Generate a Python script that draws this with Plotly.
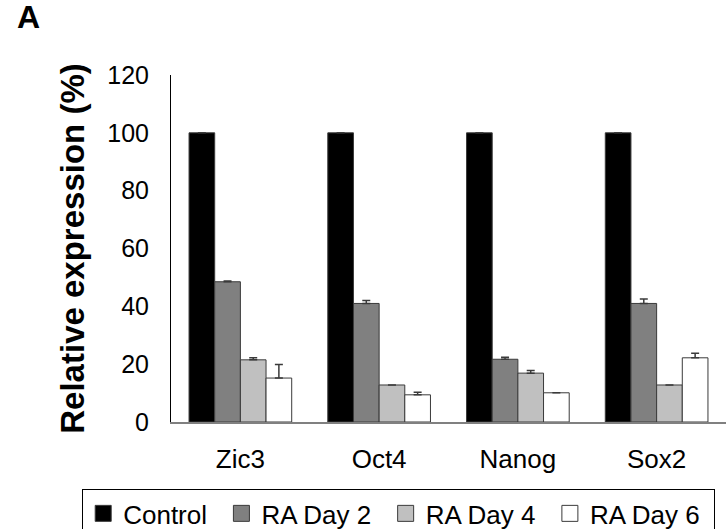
import plotly.graph_objects as go

genes = ["Zic3", "Oct4", "Nanog", "Sox2"]
series_names = ["Control", "RA Day 2", "RA Day 4", "RA Day 6"]
control = [100, 100, 100, 100]
ra_day2 = [48.5, 41.0, 21.7, 41.0]
ra_day4 = [21.5, 12.8, 16.9, 12.8]
ra_day6 = [15.2, 9.4, 10.1, 22.2]
err_control = [0, 0, 0, 0]
err_day2 = [0.3, 1.0, 0.7, 1.5]
err_day4 = [0.7, 0.0, 0.9, 0.0]
err_day6 = [4.7, 0.9, 0.0, 1.6]
y_ticks = [0, 20, 40, 60, 80, 100, 120]

values = [control, ra_day2, ra_day4, ra_day6]
errors = [err_control, err_day2, err_day4, err_day6]
colors = ["#000000", "#808080", "#c0c0c0", "#ffffff"]

FONT = "Liberation Sans, Arial, sans-serif"
PAD = "\u00a0\u200a"

fig = go.Figure()
for name, vals, errs, col in zip(series_names, values, errors, colors):
    fig.add_trace(go.Bar(
        x=genes, y=vals, name=name, showlegend=False,
        marker=dict(color=col, line=dict(color="#3a3a3a", width=1)),
        error_y=dict(type="data", array=errs, arrayminus=[0] * len(errs),
                     symmetric=False, color="#3a3a3a", thickness=1.5, width=4),
    ))
# legend entries
for name, col in zip(series_names, colors):
    fig.add_trace(go.Scatter(
        x=[None], y=[None], mode="markers", name=name + PAD,
        marker=dict(symbol="square", size=16, color=col,
                    line=dict(color="#3a3a3a", width=1)),
    ))

fig.update_layout(
    width=726, height=529,
    margin=dict(l=171, r=0, t=75, b=107, autoexpand=False),
    paper_bgcolor="white", plot_bgcolor="white",
    barmode="group", bargap=0.26, bargroupgap=0,
    font=dict(family=FONT, size=26, color="black"),
    showlegend=True,
    legend=dict(orientation="h", x=-0.16, y=-0.193, xanchor="left", yanchor="top",
                bordercolor="black", borderwidth=1, bgcolor="white",
                font=dict(size=26, family=FONT, color="black"),
                itemwidth=30, tracegroupgap=0),
    xaxis=dict(showline=True, linecolor="#808080", linewidth=2, ticks="",
               tickfont=dict(size=26), showgrid=False, zeroline=False,
               ticklabelstandoff=13),
    yaxis=dict(range=[0, 120], tickvals=y_ticks, showline=True, linecolor="black",
               linewidth=1, ticks="", showgrid=False, zeroline=False,
               tickfont=dict(size=25), ticklabelstandoff=16,
               title=dict(text="<b>Relative expression (%)</b>",
                          font=dict(size=33), standoff=12)),
)
fig.add_annotation(text="<b>A</b>", xref="paper", yref="paper",
                   x=-156 / 555, y=(422 + 3) / 347, xanchor="left", yanchor="top",
                   showarrow=False, font=dict(size=32, family=FONT, color="black"))

fig.write_html("out.html")
